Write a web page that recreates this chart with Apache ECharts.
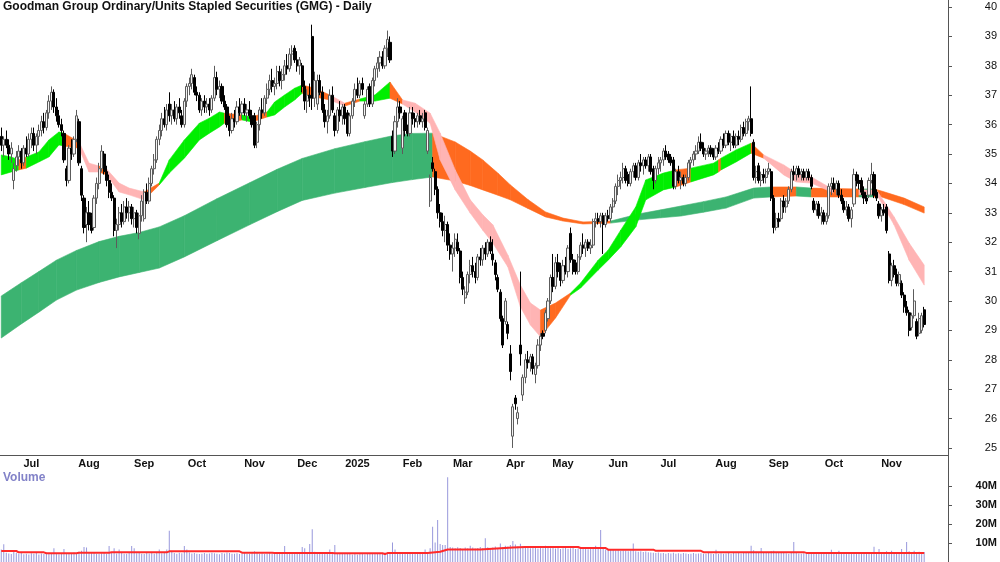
<!DOCTYPE html>
<html><head><meta charset="utf-8">
<script src="https://cdn.jsdelivr.net/npm/echarts@6/dist/echarts.min.js"></script>
<style>html,body{margin:0;padding:0;background:#fff}#c{width:1000px;height:562px}</style>
</head><body><div id="c"></div>
<script>
const chartTitle = 'Goodman Group Ordinary/Units Stapled Securities (GMG) - Daily';
const volumeTitle = 'Volume';
const startDate = '2024-06-13';
const holidays = ['2024-12-25','2024-12-26','2025-01-01','2025-04-18','2025-04-21','2025-04-25','2025-06-09'];
const padDays = 9;
const monthNames = ['Jan','Feb','Mar','Apr','May','Jun','Jul','Aug','Sep','Oct','Nov','Dec'];
const priceTicks = [25,26,27,28,29,30,31,32,33,34,35,36,37,38,39,40];
const volumeTicks = [10,20,30,40];

// daily candles [open, high, low, close]
const candles = [
[35.6,35.9,35.1,35.3],[35.3,35.6,34.9,35.5],[35.5,35.8,35.2,35.3],[35.3,35.5,34.8,35.0],[35.0,35.4,34.7,35.2],
[34.1,34.7,33.8,34.5],[34.6,35.1,34.4,34.9],[34.9,35.3,34.6,35.1],[35.1,35.2,34.5,34.7],[34.7,35.3,34.6,35.2],
[35.2,35.6,34.9,35.0],[35.0,35.7,34.9,35.5],[35.5,35.9,35.2,35.7],[35.7,35.9,35.1,35.3],[35.3,35.7,35.0,35.6],
[35.6,36.0,35.3,35.8],[35.8,36.3,35.6,36.1],[36.1,36.4,35.7,35.9],[35.9,36.5,35.8,36.4],[36.4,37.0,36.2,36.8],
[36.8,37.3,36.5,37.1],[37.1,37.2,36.4,36.6],[36.6,36.9,36.1,36.3],[36.3,36.5,35.9,36.0],[36.0,36.2,35.6,35.8],
[35.7,35.8,34.7,34.8],[34.5,34.6,33.9,34.1],[34.1,35.3,34.0,35.2],[35.2,35.5,34.8,35.0],[35.0,35.6,34.9,35.5],
[35.5,36.5,35.4,36.3],[36.1,36.2,34.6,34.7],[34.5,34.6,33.4,33.6],[33.5,33.6,32.3,32.5],[32.6,33.2,32.0,33.0],
[33.0,33.4,32.4,32.6],[32.9,33.0,32.3,32.4],[32.5,33.6,32.4,33.5],[33.5,34.2,33.3,34.0],[34.0,34.7,33.8,34.5],
[34.5,35.3,34.4,35.1],[35.0,35.1,34.3,34.4],[34.4,34.6,33.9,34.1],[34.1,34.3,33.5,33.7],[33.7,34.0,33.4,33.5],
[33.5,33.6,32.2,32.4],[32.4,32.8,31.8,32.6],[32.6,33.2,32.4,33.0],[33.0,33.3,32.5,32.7],[32.7,33.4,32.6,33.2],
[33.2,33.5,32.8,33.0],[33.0,33.4,32.7,33.2],[33.2,33.3,32.6,32.8],[32.8,33.2,32.5,33.0],[33.0,33.1,32.3,32.5],
[32.3,33.0,32.1,32.9],[32.9,33.6,32.7,33.4],[32.8,33.8,32.7,33.7],[33.7,34.0,33.3,33.4],[33.4,34.2,33.3,34.0],
[34.0,34.6,33.9,34.5],[34.5,35.0,34.3,34.8],[34.8,35.6,34.7,35.5],[35.5,36.0,35.3,35.8],[35.8,36.4,35.6,36.2],
[36.2,36.6,35.9,36.0],[36.0,36.7,35.8,36.5],[36.7,37.1,36.1,36.3],[36.3,36.7,36.0,36.5],[36.5,36.8,36.1,36.2],
[36.2,36.7,36.0,36.6],[36.6,36.9,36.2,36.4],[36.3,36.5,35.9,36.0],[36.0,36.9,35.9,36.8],[36.8,37.4,36.6,37.3],
[37.3,37.6,37.0,37.4],[37.4,37.9,37.2,37.7],[37.6,37.7,37.0,37.1],[37.1,37.3,36.8,37.0],[37.0,37.1,36.4,36.5],
[36.5,36.9,36.3,36.8],[36.8,37.0,36.4,36.6],[36.6,36.9,36.4,36.7],[36.7,36.9,36.3,36.5],[36.5,37.0,36.4,36.9],
[36.9,38.0,36.8,37.6],[37.6,37.8,37.0,37.2],[37.2,37.5,36.9,37.3],[37.3,37.4,36.7,36.8],[36.8,37.0,36.5,36.6],
[36.6,36.7,35.9,36.0],[36.0,36.3,35.6,35.8],[35.8,36.4,35.7,36.2],[36.2,36.5,35.9,36.1],[36.1,36.8,36.0,36.6],
[36.6,36.9,36.3,36.4],[36.4,36.8,36.2,36.7],[36.7,36.9,36.3,36.4],[36.4,36.7,36.1,36.5],[36.5,36.8,36.2,36.3],
[36.3,36.5,35.9,36.0],[36.3,36.4,35.2,35.3],[35.4,36.1,35.2,36.0],[36.0,36.6,35.8,36.5],[36.5,36.9,36.2,36.4],
[36.4,37.0,36.3,36.9],[36.9,37.4,36.7,37.2],[37.2,37.7,37.0,37.5],[37.5,37.9,37.1,37.3],[37.3,37.6,37.0,37.4],
[37.4,38.0,37.2,37.8],[37.8,38.0,37.3,37.5],[37.5,37.9,37.2,37.7],[37.7,38.2,37.5,38.0],[38.0,38.4,37.7,37.9],
[37.9,38.6,37.8,38.4],[38.4,38.7,38.0,38.5],[38.6,38.7,38.1,38.2],[38.2,38.5,37.8,38.0],[38.0,38.3,37.7,38.2],
[38.0,38.1,37.1,37.3],[37.3,37.5,36.5,36.8],[36.8,37.2,36.4,37.0],[37.0,37.4,36.6,36.9],[39.0,39.4,36.5,36.9],
[36.9,37.8,36.6,37.5],[36.7,37.7,36.5,37.5],[37.5,37.7,37.0,37.1],[37.1,37.3,36.4,36.5],[36.5,36.7,35.9,36.1],
[36.1,36.5,35.7,36.3],[36.3,37.2,36.2,37.0],[37.0,37.3,36.4,36.5],[36.3,36.4,35.6,35.8],[35.8,36.6,35.7,36.5],
[36.5,36.8,36.1,36.3],[36.3,36.7,36.0,36.6],[36.6,36.7,36.0,36.2],[36.4,36.5,35.6,35.7],[35.7,36.4,35.6,36.3],
[36.3,36.9,36.2,36.8],[36.8,37.4,36.6,37.2],[37.2,37.6,36.9,37.0],[37.0,37.5,36.9,37.4],[37.4,37.6,37.0,37.2],
[36.3,36.8,36.2,36.7],[36.7,37.3,36.6,37.2],[37.3,37.4,36.6,36.7],[36.7,37.6,36.6,37.5],[37.5,38.0,37.3,37.9],
[37.9,38.3,37.6,38.1],[38.1,38.5,37.8,38.3],[38.3,38.5,37.9,38.0],[38.0,38.7,37.9,38.6],[38.6,39.2,38.3,38.9],
[38.8,39.0,38.1,38.2],[35.6,35.8,34.9,35.1],[35.1,36.3,35.0,36.1],[36.1,36.9,35.9,36.6],[36.6,36.8,36.2,36.4],
[35.2,36.3,35.0,36.2],[36.4,36.5,35.6,35.8],[35.8,36.0,35.6,35.7],[35.7,36.6,35.6,36.4],[36.4,36.6,36.0,36.2],
[36.2,36.4,35.9,36.1],[36.1,36.4,35.9,36.3],[36.3,36.5,36.0,36.1],[36.1,36.4,35.9,36.2],[36.4,36.5,35.8,35.9],
[35.1,35.9,35.0,35.8],[33.4,34.3,33.2,34.2],[34.7,34.9,34.4,34.5],[34.4,34.5,33.6,33.8],[33.8,33.9,32.8,33.0],
[33.0,33.3,32.5,32.7],[32.7,33.0,32.2,32.4],[32.4,32.9,32.0,32.6],[32.6,32.7,31.7,31.9],[31.9,32.3,31.4,31.6],
[31.6,32.0,31.0,31.8],[31.8,32.3,31.5,32.1],[32.0,32.3,31.6,31.7],[31.7,31.8,30.6,30.8],[30.8,31.0,30.2,30.4],
[30.1,30.5,29.9,30.3],[30.3,31.0,30.2,30.9],[30.9,31.4,30.6,31.2],[31.2,31.5,30.8,31.0],[31.0,31.3,30.6,30.8],
[30.8,31.6,30.7,31.5],[31.5,31.8,31.2,31.4],[31.4,31.9,31.2,31.8],[31.8,32.0,31.4,31.6],[31.6,32.1,31.5,32.0],
[32.0,32.2,31.6,31.7],[31.6,32.1,31.2,31.4],[31.3,31.4,30.7,30.9],[30.8,30.9,30.3,30.4],[30.3,30.4,29.3,29.4],
[29.4,29.5,28.4,28.5],[29.3,30.1,29.2,30.0],[29.2,29.3,28.7,28.9],[28.2,28.5,27.3,27.6],[25.4,26.5,25.0,26.4],
[26.7,26.8,26.3,26.5],[26.0,26.4,25.8,26.2],[28.5,31.0,27.8,28.2],[26.8,27.5,26.6,27.4],[27.4,28.2,27.2,28.0],
[28.0,28.3,27.7,27.9],[27.9,28.2,27.6,28.1],[28.1,28.2,27.5,27.7],[27.5,27.9,27.2,27.8],[27.8,28.7,27.7,28.5],
[28.5,28.9,28.3,28.8],[28.9,29.0,28.7,28.8],[29.0,29.7,28.9,29.6],[29.4,30.1,29.3,30.0],[30.0,30.9,29.9,30.8],
[30.8,31.6,30.3,30.5],[30.5,31.5,30.4,31.3],[31.3,31.6,30.8,31.0],[31.0,31.3,30.5,30.7],[30.7,31.4,30.6,31.2],
[31.2,31.5,30.9,31.0],[31.0,31.9,30.8,31.8],[32.3,32.5,31.3,31.4],[31.4,31.6,30.9,31.0],[31.3,31.4,30.9,31.0],
[31.0,31.6,30.9,31.5],[31.5,32.0,31.4,31.9],[31.9,32.3,31.6,31.8],[31.8,32.1,31.5,32.0],[32.0,32.1,31.7,31.8],
[31.8,32.1,31.6,31.9],[31.9,32.8,31.8,32.7],[32.7,33.0,32.5,32.8],[32.8,33.0,32.6,32.7],[32.7,33.0,32.5,32.9],
[32.9,33.0,31.6,32.6],[32.6,33.0,32.5,32.9],[32.9,33.1,32.7,32.8],[32.8,33.3,32.7,33.2],[33.2,33.5,33.0,33.4],
[33.4,34.0,33.3,33.9],[33.9,34.3,33.6,34.1],[34.1,34.4,33.8,34.2],[34.2,34.7,34.0,34.5],[34.5,34.6,34.0,34.1],
[34.3,34.4,33.9,34.0],[34.0,34.5,33.9,34.4],[34.4,34.7,34.2,34.6],[34.6,34.7,34.1,34.2],[34.2,34.8,34.1,34.7],
[34.7,35.0,34.4,34.6],[34.6,34.9,34.3,34.8],[34.8,34.9,34.5,34.6],[34.6,35.0,34.4,34.9],[34.9,35.0,34.3,34.4],
[34.5,34.6,33.8,34.1],[34.1,34.6,34.0,34.5],[34.5,34.9,34.3,34.7],[34.7,34.9,34.4,34.8],[34.8,35.2,34.6,35.1],
[35.1,35.3,34.8,34.9],[35.0,35.1,34.7,34.8],[34.9,35.0,34.6,34.7],[34.8,34.9,33.8,33.9],[33.9,34.5,33.8,34.4],
[34.4,34.6,34.0,34.1],[34.1,34.4,33.8,34.2],[34.2,34.3,33.9,34.0],[34.0,34.3,33.9,34.2],[34.2,34.8,34.1,34.7],
[34.7,34.9,34.5,34.8],[34.8,35.1,34.6,35.0],[35.0,35.3,34.8,35.1],[35.1,35.6,35.0,35.4],[35.4,35.7,35.1,35.2],
[35.2,35.4,34.9,35.0],[35.0,35.2,34.8,35.1],[35.1,35.3,34.9,35.2],[35.2,35.3,34.9,35.0],[35.1,35.2,34.8,34.9],
[34.9,35.3,34.8,35.2],[35.2,35.4,35.0,35.1],[35.1,35.6,35.0,35.5],[35.5,35.7,35.2,35.3],[35.3,35.8,35.2,35.7],
[35.7,35.8,35.3,35.4],[35.4,35.7,35.1,35.6],[35.6,35.8,35.2,35.3],[35.3,35.7,35.2,35.6],[35.6,35.8,35.3,35.5],
[35.5,36.0,35.4,35.9],[35.9,36.1,35.6,35.7],[35.7,36.2,35.6,36.1],[36.1,36.3,35.8,36.2],[36.2,37.3,35.6,35.7],
[35.4,35.5,34.1,34.2],[34.2,34.6,34.0,34.4],[34.6,34.7,34.0,34.1],[34.1,34.4,33.9,34.3],[34.3,34.5,34.0,34.2],
[34.2,34.5,34.0,34.4],[34.4,34.7,34.3,34.5],[34.4,34.5,33.4,33.5],[33.5,33.6,32.3,32.5],[32.5,33.0,32.4,32.8],
[32.8,33.0,32.5,32.7],[32.8,33.5,32.7,33.4],[33.4,33.6,33.0,33.2],[33.2,33.5,33.0,33.4],[33.4,33.9,33.3,33.8],
[33.8,34.5,33.7,34.4],[34.4,34.6,34.1,34.3],[34.3,34.6,34.1,34.5],[34.5,34.6,34.2,34.3],[34.3,34.5,34.1,34.4],
[34.4,34.5,34.1,34.2],[34.2,34.5,34.1,34.4],[34.4,34.5,34.1,34.2],[34.2,34.3,33.8,33.9],[33.4,33.5,33.0,33.1],
[33.1,33.4,32.9,33.3],[33.3,33.4,32.8,32.9],[32.9,33.2,32.6,33.0],[33.0,33.1,32.6,32.7],[32.7,33.0,32.6,32.9],
[32.9,34.0,32.8,33.9],[33.9,34.2,33.6,34.0],[34.0,34.2,33.7,33.8],[33.8,34.1,33.6,34.0],[34.0,34.1,33.5,33.6],
[33.6,33.8,33.3,33.4],[33.4,33.5,33.0,33.1],[33.1,33.4,32.9,33.2],[33.2,33.3,32.7,32.8],[32.8,33.2,32.5,33.1],
[33.3,34.5,33.2,34.3],[34.3,34.4,33.9,34.1],[34.1,34.3,33.8,34.0],[34.1,34.2,33.6,33.7],[33.7,33.9,33.3,33.5],
[33.5,33.6,33.3,33.4],[33.6,34.2,33.5,34.1],[34.1,34.7,34.0,34.3],[34.3,34.4,33.5,33.6],[33.7,33.8,33.4,33.5],
[33.3,33.4,32.8,32.9],[32.9,33.2,32.7,33.1],[33.1,33.3,32.9,33.0],[33.2,33.3,32.3,32.4],[31.6,31.7,30.6,30.7],
[30.7,31.3,30.5,31.2],[31.2,31.4,30.8,30.9],[30.9,31.1,30.5,30.6],[30.6,31.0,30.5,30.9],[30.6,30.7,30.1,30.2],
[30.2,30.3,29.6,29.8],[29.8,30.0,29.5,29.6],[29.6,29.7,28.8,29.0],[29.1,29.6,29.0,29.5],[29.5,30.4,29.4,30.0],
[29.3,29.4,28.7,28.8],[28.9,29.6,28.8,29.4],[29.0,29.6,28.9,29.5],[29.7,29.8,29.1,29.2]
];

// daily volume, millions
const volumes = [
6.6,9.3,4.9,4.5,4.2,5.4,4.7,4.3,5.0,4.1,4.4,4.0,4.6,4.3,4.8,3.9,4.5,4.2,4.9,4.4,
4.7,7.2,4.4,4.1,4.8,6.9,4.6,4.3,4.5,5.0,4.2,5.4,5.9,7.9,7.7,4.9,5.3,4.7,4.4,4.2,
4.6,4.9,4.4,8.4,4.7,7.2,4.5,6.6,4.8,4.3,4.4,4.7,8.4,7.2,4.6,4.9,4.4,4.2,4.8,4.5,
4.7,4.4,5.0,6.6,4.6,4.8,6.6,16.5,5.3,4.7,4.4,4.9,4.6,8.4,6.6,5.0,4.5,4.7,4.4,4.2,
4.4,4.7,4.3,4.5,4.9,4.6,4.4,4.1,4.8,4.5,5.0,4.7,4.3,4.4,4.6,4.2,4.5,4.8,4.4,4.3,
4.7,5.6,4.9,4.4,4.6,4.2,4.5,4.8,4.4,4.7,4.5,4.3,4.9,8.4,4.6,4.4,4.7,5.0,4.5,4.4,
7.9,7.2,4.8,9.5,17.2,5.4,4.9,4.6,5.0,4.4,4.7,6.6,4.5,8.9,4.8,4.6,4.3,4.4,4.7,4.2,
4.0,4.3,3.9,4.2,4.4,4.1,4.5,4.3,4.6,4.4,4.2,4.7,4.5,4.9,4.8,5.2,10.3,6.6,5.0,4.7,
4.9,4.6,4.4,4.8,4.5,4.7,4.4,5.0,4.8,6.6,5.2,7.2,18.6,10.3,22.1,9.5,8.9,8.9,44.6,7.9,
7.6,7.2,7.8,7.4,6.9,7.6,7.3,8.6,7.7,7.1,7.4,7.9,7.2,12.5,7.8,7.3,7.6,8.2,7.4,9.7,
7.9,8.6,8.2,8.9,11.0,9.2,8.3,9.6,8.4,7.6,7.9,7.2,7.4,7.7,7.1,7.5,7.3,8.6,7.6,7.2,
7.4,7.1,7.7,6.9,7.3,7.5,7.0,7.2,7.6,6.8,7.1,7.3,6.9,7.4,6.7,7.0,7.2,8.6,7.5,16.8,
7.2,6.6,6.9,6.3,6.5,6.0,6.2,5.8,6.1,5.9,5.7,6.0,9.7,5.6,5.4,5.7,5.3,5.5,5.2,5.0,
4.9,4.7,5.0,4.6,4.8,4.4,4.7,4.5,4.9,4.3,4.6,4.4,4.8,4.5,4.2,4.4,4.7,4.3,4.5,4.6,
4.3,4.4,4.7,4.5,4.2,6.5,4.4,4.6,4.3,4.5,4.7,4.4,4.8,4.6,4.9,4.5,4.7,5.0,4.8,8.6,
6.2,5.4,5.3,7.4,5.1,4.9,5.2,5.6,5.9,5.0,4.8,4.7,4.9,4.6,4.4,4.7,10.5,4.8,4.5,4.4,
4.6,4.3,4.5,4.7,4.8,4.4,4.6,4.2,4.5,4.4,4.8,6.5,4.3,4.6,5.9,4.7,4.5,4.2,4.4,4.6,
4.8,4.5,4.4,4.7,4.3,4.6,4.9,4.5,8.1,4.7,6.8,5.0,5.2,5.6,4.9,5.9,5.3,4.7,5.0,6.8,
5.2,10.6,5.6,5.3,5.9,5.1,5.4,5.0,5.3
];

// volume average line: [day index, millions]
const volumeAvg = [[0,5.8],[6,5.8],[7,5.1],[17,5.1],[18,4.6],[30,4.6],[31,4.9],[43,4.9],[44,5.1],[66,5.1],[67,5.6],[95,5.6],[96,4.9],[108,4.9],[109,4.7],[132,4.7],[133,4.6],[152,4.6],[153,4.2],[154,4.7],[170,4.7],[175,5.4],[178,6.6],[191,6.6],[204,7.7],[209,7.9],[230,7.9],[231,7.4],[241,7.4],[242,6.5],[260,6.5],[261,5.9],[279,5.9],[280,5.2],[320,5.2],[321,4.8],[368,4.8]];

// short-term ribbon: [day index, upper, lower, state of following segment]
const shortRibbon = [
[0,34.97,34.29,'up'],[4,34.90,34.39,'up'],[7,34.80,34.46,'mixed'],[10,34.90,34.52,'up'],[15,35.07,34.73,'up'],
[19,35.48,34.90,'up'],[23,35.75,35.31,'up'],[25,35.71,35.27,'mixed'],[31,35.41,35.20,'down'],[35,34.69,34.39,'down'],
[39,34.59,34.39,'mixed'],[42,34.49,34.29,'down'],[47,34.01,33.71,'down'],[51,33.84,33.61,'down'],[57,33.71,33.44,'mixed'],
[63,34.01,33.95,'up'],[67,34.80,34.35,'up'],[73,35.48,34.86,'up'],[79,36.05,35.48,'up'],[83,36.22,35.71,'up'],
[87,36.43,35.92,'up'],[89,36.39,36.05,'mixed'],[96,36.33,36.16,'up'],[100,36.26,36.09,'mixed'],[106,36.43,36.26,'up'],
[109,36.77,36.33,'up'],[113,37.01,36.60,'up'],[117,37.24,36.84,'up'],[120,37.35,37.07,'mixed'],[125,37.24,36.94,'mixed'],
[131,37.01,36.84,'down'],[137,36.73,36.63,'mixed'],[143,36.87,36.80,'up'],[149,37.01,36.80,'up'],[155,37.45,36.90,'mixed'],
[160,36.84,36.70,'down'],[165,36.73,36.43,'down'],[171,36.39,36.05,'down'],[175,35.71,34.80,'down'],[181,34.46,33.78,'down'],
[187,33.44,32.99,'down'],[192,32.93,32.41,'down'],[196,32.59,31.97,'down'],[202,31.56,31.16,'down'],[207,30.54,29.80,'down'],
[211,29.93,29.18,'down'],[215,29.69,28.78,'mixed'],[221,29.93,29.42,'mixed'],[227,30.27,30.20,'up'],[231,30.61,30.44,'up'],
[238,31.39,31.05,'up'],[242,31.73,31.39,'up'],[247,32.41,31.84,'up'],[253,33.20,32.52,'up'],[257,34.12,33.44,'up'],
[264,34.35,33.78,'up'],[269,34.46,33.88,'mixed'],[275,34.52,34.05,'up'],[284,34.69,34.29,'up'],[286,34.80,34.39,'mixed'],
[287,34.86,34.46,'up'],[293,35.14,34.73,'up'],[299,35.37,35.03,'mixed'],[304,34.97,34.86,'down'],[312,34.63,34.29,'down'],
[317,34.35,34.05,'down'],[323,34.22,34.01,'down'],[332,33.78,33.67,'mixed'],[342,33.78,33.61,'down'],[349,33.78,33.64,'down'],
[356,32.86,32.59,'down'],[362,31.97,31.39,'down'],[368,31.22,30.54,'down']
];

// long-term ribbon: [day index, upper, lower, state of following segment]
const longRibbon = [
[0,30.17,28.74,'up'],[8,30.62,29.22,'up'],[15,31.00,29.62,'up'],[22,31.39,30.03,'up'],[30,31.72,30.37,'up'],
[39,32.02,30.63,'up'],[47,32.20,30.82,'up'],[55,32.33,30.97,'up'],[63,32.52,31.12,'up'],[73,32.90,31.50,'up'],
[86,33.48,32.05,'up'],[99,34.02,32.59,'up'],[110,34.48,33.04,'up'],[120,34.85,33.42,'up'],[133,35.18,33.67,'up'],
[145,35.42,33.86,'up'],[156,35.62,34.03,'up'],[164,35.70,34.13,'up'],
[172,35.71,34.22,'down'],[181,35.41,34.08,'down'],[187,35.10,33.93,'down'],[192,34.80,33.78,'down'],[198,34.35,33.60,'down'],
[203,33.95,33.44,'down'],[210,33.45,33.15,'down'],[217,33.03,32.86,'down'],[224,32.82,32.72,'down'],
[232,32.69,32.62,'down'],[243,32.72,32.65,'up'],[254,32.96,32.76,'up'],[263,33.10,32.83,'up'],[271,33.23,32.89,'up'],[280,33.38,33.02,'up'],[289,33.54,33.16,'up'],
[300,33.84,33.50,'up'],[307,33.88,33.54,'down'],[317,33.88,33.57,'up'],[323,33.84,33.54,'down'],[342,33.81,33.54,'up'],
[348,33.81,33.54,'down'],[351,33.74,33.54,'down'],[360,33.50,33.28,'down'],[368,33.20,32.99,'down']
];

const shortColors = {up:'#00ee00', mixed:'#ff6a1f', down:'#ffb4b4'};
const longColors = {up:'#3cb371', down:'#ff6a1f'};

function buildDates(n){
  const out=[]; const d=new Date(startDate+'T00:00:00Z');
  while(out.length<n){
    const wd=d.getUTCDay(); const s=d.toISOString().slice(0,10);
    if(wd!==0&&wd!==6&&holidays.indexOf(s)<0) out.push(s);
    d.setUTCDate(d.getUTCDate()+1);
  }
  return out;
}
const dates = buildDates(candles.length);
const cats = dates.concat(Array.from({length:padDays},(_,k)=>'pad'+k));
function isMonthStart(idx){
  if(idx<=0||idx>=dates.length) return false;
  return dates[idx].slice(0,7)!==dates[idx-1].slice(0,7);
}
function monthLabel(v){
  if(!/^\d{4}-/.test(v)) return '';
  const m=+v.slice(5,7);
  return m===1? v.slice(0,4) : monthNames[m-1];
}
function segments(samples){
  const out=[];
  for(let k=0;k<samples.length-1;k++){
    const a=samples[k], b=samples[k+1];
    out.push([a[0],a[1],a[2],b[0],b[1],b[2]]);
  }
  return out;
}
function ribbonSeries(samples, colors, z){
  return {
    type:'custom', xAxisIndex:0, yAxisIndex:0, z:z, silent:true, clip:true,
    encode:{x:[0,3], y:[1,2,4,5]},
    data: segments(samples),
    renderItem:function(params, api){
      const c = colors[samples[params.dataIndex][3]];
      const p1=api.coord([api.value(0),api.value(1)]);
      const p2=api.coord([api.value(3),api.value(4)]);
      const p3=api.coord([api.value(3),api.value(5)]);
      const p4=api.coord([api.value(0),api.value(2)]);
      return {type:'polygon', shape:{points:[p1,p2,p3,p4]}, style:{fill:c, stroke:c, lineWidth:0.6}};
    }
  };
}

const chart = echarts.init(document.getElementById('c'), null, {renderer:'canvas'});
const axisFont = 'Liberation Sans, Arial, sans-serif';
chart.setOption({
  animation:false,
  backgroundColor:'#ffffff',
  title:[
    {text:chartTitle, left:3, top:1, padding:0, textStyle:{fontFamily:axisFont, fontSize:12, fontWeight:'bold', color:'#111'}},
    {text:volumeTitle, left:3, top:472, padding:0, textStyle:{fontFamily:axisFont, fontSize:12, fontWeight:'bold', color:'#8282c8'}}
  ],
  grid:[
    {left:0, top:0, width:948, height:455},
    {left:0, top:469, width:948, height:93}
  ],
  xAxis:[
    {type:'category', gridIndex:0, data:cats, boundaryGap:true,
     axisLine:{show:true, lineStyle:{color:'#555', width:1}}, axisTick:{show:false},
     splitLine:{show:false},
     axisLabel:{interval:function(i){return isMonthStart(i);}, formatter:monthLabel, margin:3,
       fontFamily:axisFont, fontSize:11, fontWeight:'bold', color:'#111'}},
    {type:'category', gridIndex:1, data:cats, boundaryGap:true, position:'top',
     axisLine:{show:true, lineStyle:{color:'#555', width:1}}, axisTick:{show:false}, axisLabel:{show:false}, splitLine:{show:false}}
  ],
  yAxis:[
    {type:'value', gridIndex:0, position:'right', min:24.76, max:40.24, scale:true,
     axisLine:{show:true, lineStyle:{color:'#555'}}, splitLine:{show:false},
     axisTick:{show:true, customValues:priceTicks, length:4, lineStyle:{color:'#555'}},
     axisLabel:{customValues:priceTicks, align:'right', margin:49, fontFamily:axisFont, fontSize:11, color:'#111'}},
    {type:'value', gridIndex:1, position:'right', min:0, max:49,
     axisLine:{show:true, lineStyle:{color:'#555'}}, splitLine:{show:false},
     axisTick:{show:true, customValues:volumeTicks, length:4, lineStyle:{color:'#555'}},
     axisLabel:{customValues:volumeTicks, formatter:function(v){return v+'M';}, align:'right', margin:49, fontFamily:axisFont, fontSize:11, fontWeight:'bold', color:'#111'}}
  ],
  graphic:[
    {type:'line', shape:{x1:948.5, y1:0, x2:948.5, y2:562}, style:{stroke:'#555', lineWidth:1}, silent:true}
  ],
  series:[
    ribbonSeries(longRibbon, longColors, 1),
    ribbonSeries(shortRibbon, shortColors, 2),
    {type:'candlestick', xAxisIndex:0, yAxisIndex:0, z:3, barWidth:2.6, barMinWidth:2.6,
     data:candles.map(function(c){return [c[0],c[3],c[2],c[1]];}),
     itemStyle:{color:'#f2f2f2', color0:'#000000', borderColor:'#5c5c5c', borderColor0:'#000000', borderWidth:1}},
    {type:'bar', xAxisIndex:1, yAxisIndex:1, barWidth:1, data:volumes,
     itemStyle:{color:'#9898dc'}},
    {type:'line', xAxisIndex:1, yAxisIndex:1, data:volumeAvg, showSymbol:false, symbol:'none',
     lineStyle:{color:'#ff2a2a', width:2}, z:5}
  ]
});
</script>
</body></html>
